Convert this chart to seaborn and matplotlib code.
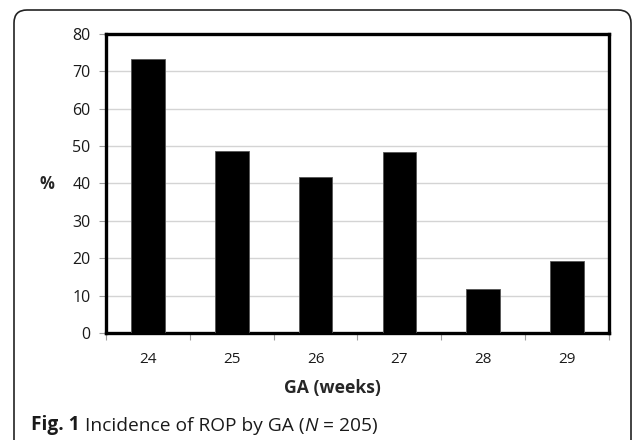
import matplotlib
matplotlib.use("Agg")
import matplotlib.pyplot as plt
import seaborn as sns
from matplotlib.patches import FancyBboxPatch
from matplotlib.ticker import FixedLocator

# Datos
semanas = ["24", "25", "26", "27", "28", "29"]
incidencia = [73.4, 48.8, 41.7, 48.5, 11.7, 19.3]
y_ticks = [0, 10, 20, 30, 40, 50, 60, 70, 80]

sns.set_style("white")
plt.rcParams["font.family"] = ["Open Sans", "DejaVu Sans"]

fig = plt.figure(figsize=(6.33, 4.40), dpi=100)
ax = fig.add_axes([0.1675, 0.243, 0.7945, 0.68])

sns.barplot(x=semanas, y=incidencia, color="black", width=0.4,
            edgecolor="#555555", linewidth=0.6, saturation=1, ax=ax, zorder=3)

ax.set_xlim(-0.5, 5.5)
ax.set_ylim(0, 80)
ax.set_yticks(y_ticks)
ax.yaxis.grid(True, color="#d4d4d4", linewidth=1.0, zorder=0)
ax.set_axisbelow(True)

for s in ax.spines.values():
    s.set_visible(True)
    s.set_color("black")
    s.set_linewidth(2.4)

ax.tick_params(axis="y", left=True, length=5, width=0.8, color="#a0a0a0",
               labelsize=11.5, pad=6, labelcolor="#1a1a1a")
ax.tick_params(axis="x", which="major", bottom=False, labelsize=11, pad=10,
               labelcolor="#1a1a1a")
ax.xaxis.set_minor_locator(FixedLocator([i - 0.5 for i in range(7)]))
ax.tick_params(axis="x", which="minor", bottom=True, length=5, width=0.8,
               color="#a0a0a0")

ax.set_xlabel("GA (weeks)", fontsize=12.7, fontweight="bold", va="center")
ax.xaxis.set_label_coords(0.451, -0.184)
ax.set_ylabel("%", fontsize=12, fontweight="bold", rotation=0, va="center")
ax.yaxis.set_label_coords(-0.118, 0.497)

# Marco redondeado de la figura
marco = FancyBboxPatch((0.14, -0.5), 6.17, 4.80,
                       boxstyle="round,pad=0,rounding_size=0.13",
                       transform=fig.dpi_scale_trans, facecolor="none",
                       edgecolor="#222222", linewidth=1.2, clip_on=False)
fig.patches.append(marco)

# Leyenda de la figura
tam = 13.8
t1 = fig.text(31 / 633, 1 - 434.5 / 440, "Fig. 1", fontsize=tam,
              fontweight="bold", va="bottom", color="#1a1a1a")
t2 = plt.annotate(" Incidence of ROP by GA (", xy=(1, 0), xycoords=t1,
                  va="bottom", fontsize=tam, color="#1a1a1a")
t3 = plt.annotate("N", xy=(1, 0), xycoords=t2, va="bottom", fontsize=tam,
                  style="italic", color="#1a1a1a")
plt.annotate(" = 205)", xy=(1, 0), xycoords=t3, va="bottom", fontsize=tam,
             color="#1a1a1a")

fig.savefig("out.png", dpi=100)
